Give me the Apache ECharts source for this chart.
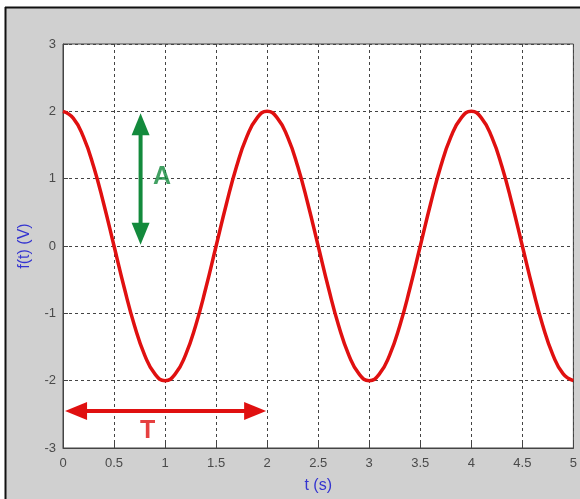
<!DOCTYPE html>
<html>
<head>
<meta charset="utf-8">
<title>f(t)</title>
<script src="https://cdn.jsdelivr.net/npm/echarts@6/dist/echarts.min.js"></script>
<style>
  html, body { margin: 0; padding: 0; background: #fff; }
  #chart { width: 580px; height: 499px; }
</style>
</head>
<body>
<div id="chart"></div>
<script>
// curve samples (t in s, f in V)
const timeValues = [0, 0.1, 0.2, 0.3, 0.4, 0.5, 0.6, 0.7, 0.8, 0.9,
  1, 1.1, 1.2, 1.3, 1.4, 1.5, 1.6, 1.7, 1.8, 1.9,
  2, 2.1, 2.2, 2.3, 2.4, 2.5, 2.6, 2.7, 2.8, 2.9,
  3, 3.1, 3.2, 3.3, 3.4, 3.5, 3.6, 3.7, 3.8, 3.9,
  4, 4.1, 4.2, 4.3, 4.4, 4.5, 4.6, 4.7, 4.8, 4.9, 5];
const signalValues = [2, 1.9, 1.62, 1.18, 0.62, 0, -0.62, -1.18, -1.62, -1.9,
  -2, -1.9, -1.62, -1.18, -0.62, 0, 0.62, 1.18, 1.62, 1.9,
  2, 1.9, 1.62, 1.18, 0.62, 0, -0.62, -1.18, -1.62, -1.9,
  -2, -1.9, -1.62, -1.18, -0.62, 0, 0.62, 1.18, 1.62, 1.9,
  2, 1.9, 1.62, 1.18, 0.62, 0, -0.62, -1.18, -1.62, -1.9, -2];

// double arrows: [t1, f1, t2, f2]
const arrowPeriod = [0.02, -2.45, 1.99, -2.45];
const arrowAmplitude = [0.76, 1.97, 0.76, 0.02];
const arrowColors = ["#e01010", "#138a3c"];

// annotation labels
const labelTexts = ["T", "A"];
const labelPositions = [[0.83, -2.75], [0.97, 1.03]];

const chart = echarts.init(document.getElementById("chart"));

const curve = timeValues.map((t, i) => [t, signalValues[i]]);

function renderArrow(params, api) {
  const p1 = api.coord([api.value(0), api.value(1)]);
  const p2 = api.coord([api.value(2), api.value(3)]);
  const color = arrowColors[params.dataIndex];
  const dx = p2[0] - p1[0];
  const dy = p2[1] - p1[1];
  const len = Math.sqrt(dx * dx + dy * dy);
  const ux = dx / len, uy = dy / len;
  const nx = -uy, ny = ux;
  const hl = 22, hw = 9;
  const head = (tip, dirx, diry) => {
    const bx = tip[0] - dirx * hl, by = tip[1] - diry * hl;
    return {
      type: "polygon",
      shape: { points: [tip, [bx + nx * hw, by + ny * hw], [bx - nx * hw, by - ny * hw]] },
      style: { fill: color },
    };
  };
  return {
    type: "group",
    children: [
      {
        type: "line",
        shape: {
          x1: p1[0] + ux * hl * 0.8, y1: p1[1] + uy * hl * 0.8,
          x2: p2[0] - ux * hl * 0.8, y2: p2[1] - uy * hl * 0.8,
        },
        style: { stroke: color, lineWidth: 4 },
      },
      head(p1, -ux, -uy),
      head(p2, ux, uy),
    ],
  };
}

const option = {
  backgroundColor: "#d0d0d0",
  animation: false,
  graphic: [
    { type: "rect", shape: { x: 0, y: 0, width: 580, height: 7 }, style: { fill: "#fff" } },
    { type: "rect", shape: { x: 0, y: 0, width: 5, height: 499 }, style: { fill: "#fff" } },
    { type: "line", shape: { x1: 5, y1: 7.5, x2: 580, y2: 7.5 }, style: { stroke: "#111", lineWidth: 2 } },
    { type: "line", shape: { x1: 5.5, y1: 7, x2: 5.5, y2: 499 }, style: { stroke: "#111", lineWidth: 2 } },
  ],
  grid: {
    left: 63,
    right: 4,
    top: 44,
    bottom: 50,
    show: true,
    backgroundColor: "#fff",
    borderColor: "#444",
    borderWidth: 1,
  },
  xAxis: {
    type: "value",
    min: 0,
    max: 5,
    interval: 0.5,
    name: "t (s)",
    nameLocation: "middle",
    nameGap: 30,
    nameTextStyle: { color: "#3434d0", fontSize: 16, fontFamily: "Liberation Sans" },
    axisLine: { onZero: false, lineStyle: { color: "#444" } },
    axisTick: { inside: true, length: 5, lineStyle: { color: "#444" } },
    axisLabel: { color: "#4a4a4a", fontSize: 13, margin: 9, fontFamily: "Liberation Sans" },
    splitLine: { show: true, lineStyle: { color: "#444", type: [3, 3], width: 1 } },
  },
  yAxis: {
    type: "value",
    min: -3,
    max: 3,
    interval: 1,
    name: "f(t) (V)",
    nameLocation: "middle",
    nameGap: 30,
    nameTextStyle: { color: "#3434d0", fontSize: 16, fontFamily: "Liberation Sans" },
    axisLine: { show: true, onZero: false, lineStyle: { color: "#444" } },
    axisTick: { show: true, inside: true, length: 5, lineStyle: { color: "#444" } },
    axisLabel: { color: "#4a4a4a", fontSize: 13, margin: 7, fontFamily: "Liberation Sans" },
    splitLine: { show: true, lineStyle: { color: "#444", type: [3, 3], width: 1 } },
  },
  series: [
    {
      type: "line",
      data: curve,
      smooth: 0.5,
      showSymbol: false,
      lineStyle: { color: "#e01010", width: 3.5 },
      z: 3,
    },
    {
      type: "custom",
      renderItem: renderArrow,
      data: [arrowPeriod, arrowAmplitude],
      z: 4,
    },
    {
      type: "scatter",
      symbolSize: 0,
      data: labelTexts.map((txt, i) => ({
        name: txt,
        value: labelPositions[i],
        label: {
          show: true,
          position: "inside",
          formatter: "{b}",
          color: arrowColors[i],
          fontSize: 25,
          fontWeight: "bold",
          fontFamily: "Liberation Sans",
        },
      })),
      z: 5,
    },
  ],
};

chart.setOption(option);
</script>
</body>
</html>
